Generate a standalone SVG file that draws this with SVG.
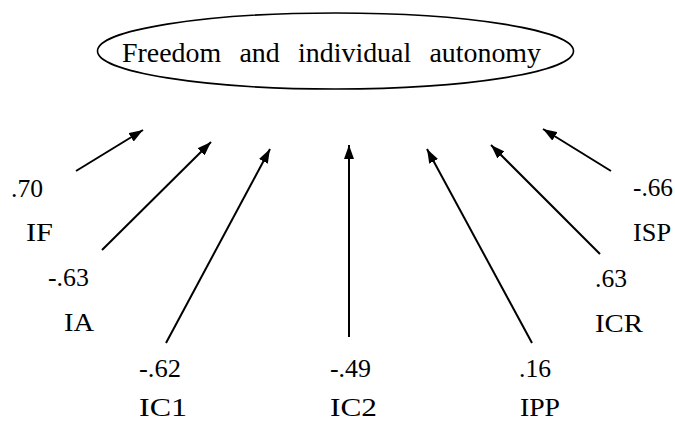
<svg xmlns="http://www.w3.org/2000/svg" width="675" height="421" viewBox="0 0 675 421">
<style>
.t{font-family:"Liberation Serif","Times New Roman",serif;fill:#000}
.lb{font-size:26px}
.ar{stroke:#000;stroke-width:2;fill:none;marker-end:url(#ah)}
</style>
<defs>
<marker id="ah" markerUnits="userSpaceOnUse" viewBox="0 0 14 10" refX="14" refY="5" markerWidth="14" markerHeight="10" orient="auto">
<path d="M0,0 L14,5 L0,10 Z" fill="#000"/>
</marker>
</defs>
<rect width="675" height="421" fill="#fff"/>
<g id="factor">
<ellipse cx="335.5" cy="51" rx="238" ry="38" fill="#fff" stroke="#000" stroke-width="1.6"/>
<text class="t" x="122" y="62" font-size="27" word-spacing="11" textLength="419" lengthAdjust="spacingAndGlyphs">Freedom and individual autonomy</text>
</g>
<g id="connectors">
<line class="ar" x1="76" y1="171" x2="143" y2="130"/>
<line class="ar" x1="102" y1="250" x2="211" y2="142"/>
<line class="ar" x1="166" y1="343" x2="270" y2="149"/>
<line class="ar" x1="349" y1="337" x2="349" y2="145"/>
<line class="ar" x1="532" y1="343" x2="427" y2="149"/>
<line class="ar" x1="600" y1="254" x2="491" y2="145"/>
<line class="ar" x1="611" y1="171" x2="543" y2="129"/>
</g>
<g id="IF"><text class="t lb" x="11" y="197" textLength="32" lengthAdjust="spacingAndGlyphs">.70</text><text class="t lb" x="26" y="241" textLength="27" lengthAdjust="spacingAndGlyphs">IF</text></g>
<g id="IA"><text class="t lb" x="48" y="286" textLength="41" lengthAdjust="spacingAndGlyphs">-.63</text><text class="t lb" x="64" y="331" textLength="30" lengthAdjust="spacingAndGlyphs">IA</text></g>
<g id="IC1"><text class="t lb" x="139" y="377" textLength="42" lengthAdjust="spacingAndGlyphs">-.62</text><text class="t lb" x="139" y="416" textLength="48" lengthAdjust="spacingAndGlyphs">IC1</text></g>
<g id="IC2"><text class="t lb" x="330" y="377" textLength="41" lengthAdjust="spacingAndGlyphs">-.49</text><text class="t lb" x="330" y="416" textLength="47" lengthAdjust="spacingAndGlyphs">IC2</text></g>
<g id="IPP"><text class="t lb" x="519" y="377" textLength="32" lengthAdjust="spacingAndGlyphs">.16</text><text class="t lb" x="520" y="416" textLength="40" lengthAdjust="spacingAndGlyphs">IPP</text></g>
<g id="ICR"><text class="t lb" x="595" y="287" textLength="32" lengthAdjust="spacingAndGlyphs">.63</text><text class="t lb" x="595" y="332" textLength="48" lengthAdjust="spacingAndGlyphs">ICR</text></g>
<g id="ISP"><text class="t lb" x="633" y="196" textLength="40" lengthAdjust="spacingAndGlyphs">-.66</text><text class="t lb" x="633" y="241" textLength="38" lengthAdjust="spacingAndGlyphs">ISP</text></g>
</svg>
